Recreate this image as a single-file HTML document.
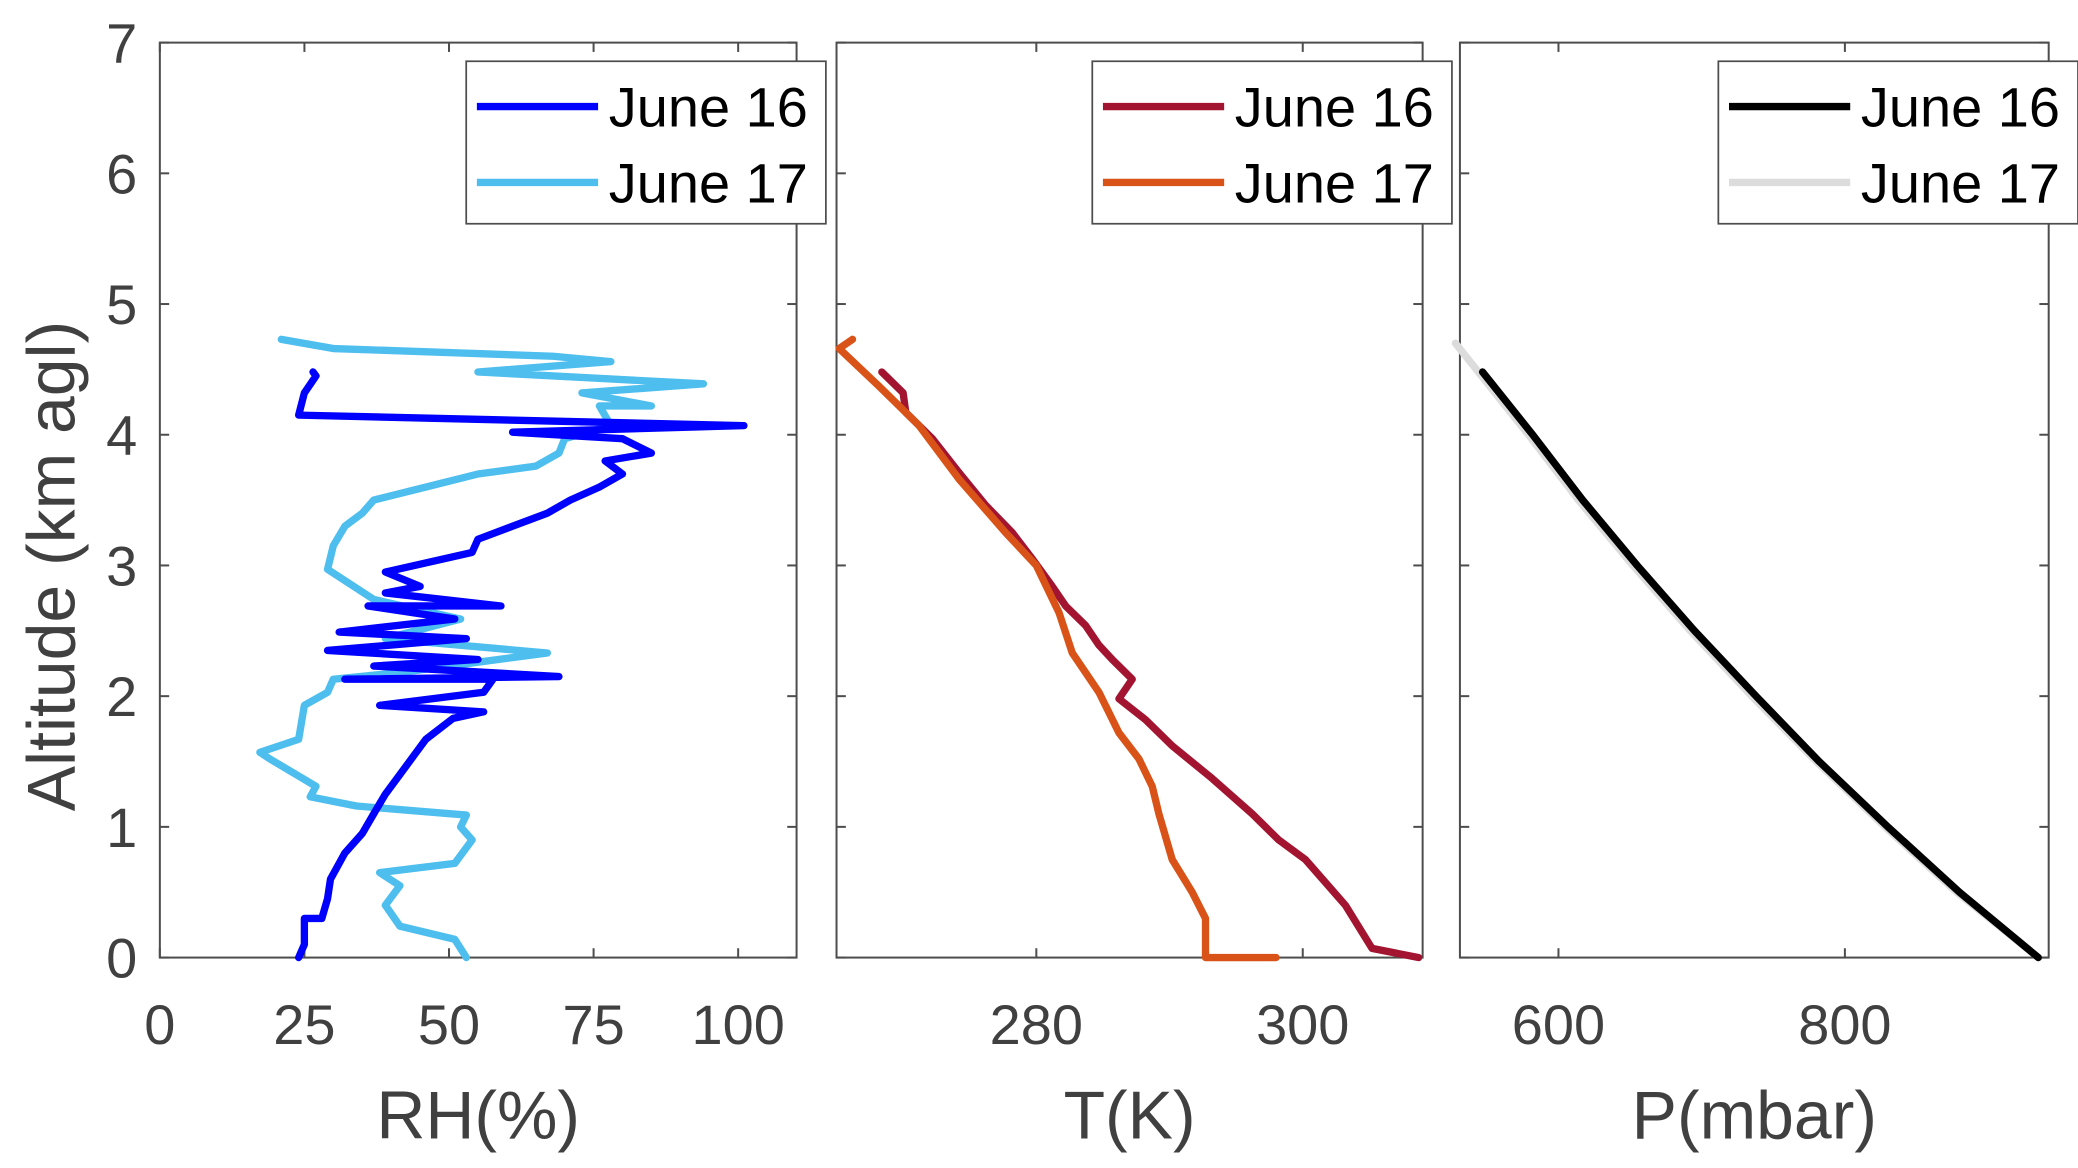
<!DOCTYPE html>
<html><head><meta charset="utf-8"><style>
html,body{margin:0;padding:0;background:#fff;}
svg{display:block;}
text{font-family:"Liberation Sans",Arial,sans-serif;}
</style></head><body>
<svg id="chart" width="2078" height="1168" viewBox="0 0 1560 877" preserveAspectRatio="none" xmlns="http://www.w3.org/2000/svg"></svg>
<script>
// ---- data ----
const altTicks=[0,1,2,3,4,5,6,7];
const rhTicks=[0,25,50,75,100];
const tTicks=[280,300];
const pTicks=[600,800];
const legendLabels=["June 16","June 17"];
const rh16Alt=[0,0.1,0.3,0.3,0.45,0.6,0.8,0.95,1.1,1.25,1.4,1.55,1.67,1.83,1.88,1.93,2.03,2.13,2.13,2.15,2.23,2.28,2.35,2.44,2.49,2.59,2.69,2.69,2.79,2.84,2.95,3.1,3.2,3.3,3.4,3.5,3.6,3.7,3.8,3.86,3.97,4.02,4.07,4.15,4.32,4.45,4.48];
const rh16Val=[24,25,25,28,29,29.5,32,35,37,39,41.5,44,46,50.7,56,38,56,57.6,32,69,37,55,29,53,31,51,36,59,39,45,39,54,55,61,67,71,76,80,77,85,80,61,101,24,25,27,26.5];
const rh17Alt=[0,0.14,0.24,0.4,0.55,0.65,0.72,0.9,1.0,1.09,1.16,1.23,1.31,1.52,1.57,1.67,1.93,2.03,2.13,2.18,2.33,2.44,2.59,2.74,2.97,3.15,3.3,3.4,3.5,3.6,3.7,3.76,3.86,3.97,4.07,4.22,4.22,4.32,4.39,4.48,4.56,4.6,4.66,4.73];
const rh17Val=[53,51,41.5,39,41.5,38,51,54,52,53,34,26,27,19,17.3,24,25,29,30,41.5,67,39,52,37,29,30,32,35,37,46,55,65,69,70,78,76,85,73,94,55,78,68,30,21];
const t16Alt=[0,0.07,0.4,0.75,0.9,1.1,1.37,1.62,1.82,1.98,2.13,2.28,2.39,2.54,2.69,2.84,3.05,3.25,3.46,3.71,3.97,4.17,4.32,4.48];
const t16Val=[308.7,305.2,303.2,300.2,298.2,296.2,293.2,290.2,288.2,286.2,287.2,285.7,284.7,283.7,282.2,281.2,279.7,278.2,276.2,274.2,272.2,270.2,270,268.4];
const t17Alt=[0,0,0.3,0.5,0.75,1.1,1.31,1.52,1.72,2.03,2.33,2.64,3.0,3.25,3.66,4.07,4.37,4.66,4.73];
const t17Val=[298,292.7,292.7,291.7,290.2,289.2,288.7,287.7,286.2,284.7,282.7,281.7,280,277.7,274.2,271.2,268.2,265.2,266.2];
const p16Alt=[0,0.5,1,1.5,2,2.5,3,3.5,4,4.48];
const p16Val=[935,880,830,782,738,695,655,617,582,547];
const p17Alt=[0,0.5,1,1.5,2,2.5,3,3.5,4,4.7];
const p17Val=[935,878,828,780,735,692,652,614,579,528];

const NS="http://www.w3.org/2000/svg";
const svg=document.getElementById('chart');
function mk(tag,attrs,parent){const e=document.createElementNS(NS,tag);for(const k in attrs)e.setAttribute(k,attrs[k]);(parent||svg).appendChild(e);return e;}
const Y0=719,Y1=32;
function yA(a){return Y0-(a/7)*(Y0-Y1);}
const panels=[
 {name:'rh',x0:120,x1:598,min:0,max:110.1,ticks:rhTicks,label:'RH(%)',showY:true,
  series:[[rh17Val,rh17Alt,'#4dbeee'],[rh16Val,rh16Alt,'#0000ff']],leg:['#0000ff','#4dbeee']},
 {name:'temp',x0:628,x1:1068,min:265,max:309,ticks:tTicks,label:'T(K)',
  series:[[t16Val,t16Alt,'#a2142f'],[t17Val,t17Alt,'#d95319']],leg:['#a2142f','#d95319']},
 {name:'pressure',x0:1096,x1:1538,min:531.2,max:942.3,ticks:pTicks,label:'P(mbar)',
  series:[[p17Val,p17Alt,'#dcdcdc'],[p16Val,p16Alt,'#000000']],leg:['#000000','#dcdcdc']}
];
panels.forEach(p=>{
 const g=mk('g',{});
 
 
 const xf=v=>p.x0+(v-p.min)/(p.max-p.min)*(p.x1-p.x0);
 const ax=mk('g',{},g);
 
 
 mk('rect',{x:p.x0,y:Y1,width:p.x1-p.x0,height:Y0-Y1,fill:'none',stroke:'#4d4d4d','stroke-width':1.5},ax);
 altTicks.forEach(a=>{const y=yA(a);
  mk('line',{x1:p.x0,x2:p.x0+7,y1:y,y2:y,stroke:'#4d4d4d','stroke-width':1.5},ax);
  mk('line',{x1:p.x1-7,x2:p.x1,y1:y,y2:y,stroke:'#4d4d4d','stroke-width':1.5},ax);
  if(p.showY){const t=mk('text',{x:p.x0-17,y:y+15,'text-anchor':'end','font-size':42,fill:'#404040'},ax);t.textContent=a;
   
   }
 });
 p.ticks.forEach(v=>{const x=xf(v);
  mk('line',{x1:x,x2:x,y1:Y0,y2:Y0-7,stroke:'#4d4d4d','stroke-width':1.5},ax);
  mk('line',{x1:x,x2:x,y1:Y1,y2:Y1+7,stroke:'#4d4d4d','stroke-width':1.5},ax);
  const t=mk('text',{x:x,y:784,'text-anchor':'middle','font-size':42,fill:'#404040'},ax);t.textContent=v;
  
  
 });
 const xl=mk('text',{x:(p.x0+p.x1)/2,y:855,'text-anchor':'middle','font-size':51,fill:'#404040'},g);xl.textContent=p.label;
 
 
 p.series.forEach((s,i)=>{
  const pts=s[0].map((v,k)=>xf(v).toFixed(1)+','+yA(s[1][k]).toFixed(1)).join(' ');
  const pl=mk('polyline',{points:pts,fill:'none',stroke:s[2],'stroke-width':5.5,'stroke-linejoin':'round','stroke-linecap':'round'},g);
  
  
 });
 // legend
 const lg=mk('g',{},g);
 
 
 const lx=p.x1-248,ly=46;
 mk('rect',{x:lx,y:ly,width:270,height:122,fill:'#fff',stroke:'#4d4d4d','stroke-width':1.3},lg);
 legendLabels.forEach((lab,i)=>{
  const y=ly+34+i*57;
  const ln=mk('line',{x1:lx+8,x2:lx+99,y1:y,y2:y,stroke:p.leg[i],'stroke-width':5.5},lg);
  
  
  const t=mk('text',{x:lx+107,y:y+15,'font-size':42,fill:'#000'},lg);t.textContent=lab;
  
  
 });
});
const yt=mk('text',{x:0,y:0,'text-anchor':'middle','font-size':51,fill:'#404040',transform:'translate(56,425) rotate(-90)'});
yt.textContent='Altitude (km agl)';


</script>
</body></html>
